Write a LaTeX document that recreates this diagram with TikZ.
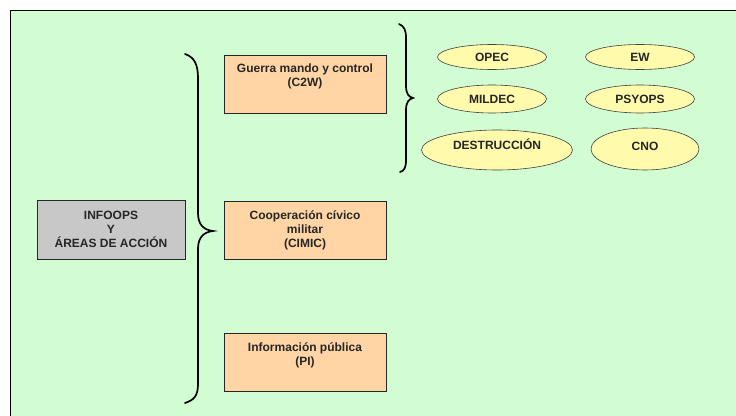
\documentclass[tikz,border=0pt]{standalone}
\usepackage{fontspec}
\setmainfont{Liberation Sans}
\usetikzlibrary{positioning}
\usetikzlibrary{shapes.geometric}

\definecolor{fondo}{RGB}{210,252,210}
\definecolor{gris}{RGB}{200,200,200}
\definecolor{naranja}{RGB}{255,213,166}
\definecolor{amarillo}{RGB}{255,250,172}

\begin{document}
\begin{tikzpicture}[x=1pt,y=-1pt,
  texto/.style={font=\fontsize{12}{14}\selectfont\bfseries,text=black!85,align=center},
  caja/.style={texto,draw=black!85,line width=0.9pt,fill=naranja,minimum width=162pt,minimum height=58pt,inner sep=0pt},
  cajagris/.style={caja,fill=gris,minimum width=148pt,minimum height=59pt},
  elipse/.style={texto,ellipse,draw=black!75,line width=0.6pt,fill=amarillo,inner sep=0pt,minimum width=109pt,minimum height=25pt},
  llave/.style={draw=black,line width=1.7pt,line cap=round}]
\useasboundingbox (0,0) rectangle (736,415);
\clip (0,0) rectangle (736,415);
\filldraw[fill=fondo,draw=black,line width=1pt] (10,10) rectangle (760,440);

\node[cajagris](infoops) at (111,229.5){INFOOPS\\Y\\ÁREAS DE ACCIÓN};
\node[caja](c2w) at (305,84){};
\node[texto,below=6pt of c2w.north](c2wtxt){Guerra mando y control\\(C2W)};
\node[caja](cimic) at (305,230.5){Cooperación cívico\\militar\\(CIMIC)};
\node[caja](pi) at (305,362){};
\node[texto,below=7pt of pi.north](pitxt){Información pública\\(PI)};

\node[elipse](opec) at (492,57){OPEC};
\node[elipse](ew) at (640,57){EW};
\node[elipse,minimum height=28pt](mildec) at (492,99){MILDEC};
\node[elipse,minimum height=28pt](psyops) at (640,99){PSYOPS};
\node[elipse,minimum width=151pt,minimum height=40pt,text depth=12pt](destr) at (497,150){DESTRUCCIÓN};
\node[elipse,minimum width=108pt,minimum height=42pt,text depth=5pt](cno) at (645,149){CNO};

% llaves
\draw[llave] (185,54) .. controls (194,57) and (198,64) .. (198,78) -- (198,213)
  .. controls (198,225) and (204,230) .. (213,231) .. controls (204,232) and (198,237) .. (198,249)
  -- (198,384) .. controls (198,396) and (194,400) .. (185,403);
\draw[llave] (399,24) .. controls (404,26) and (406,30) .. (406,38) -- (406,86)
  .. controls (406,94) and (409,97) .. (413,98) .. controls (409,99) and (406,102) .. (406,110)
  -- (406,160) .. controls (406,168) and (404,171) .. (400,172);
\end{tikzpicture}
\end{document}
